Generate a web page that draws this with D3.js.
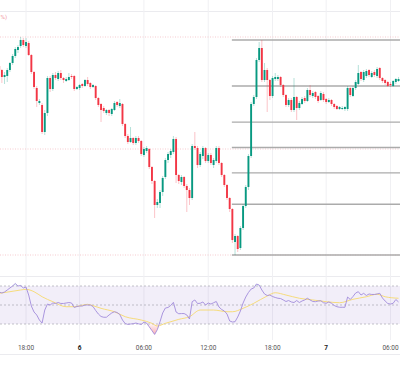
<!DOCTYPE html>
<html><head><meta charset="utf-8">
<script src="https://cdn.jsdelivr.net/npm/d3@7"></script>
<style>html,body{margin:0;padding:0;background:#fff;overflow:hidden}</style>
</head><body>
<svg id="c" width="400" height="370"></svg>
<script>
const opens = [
334,330,323,324,330,337,344,350,354,360,
354,357,345,328,312,297,295,268,287,322,
311,325,321,327,322,319,320,324,324,311,
312,316,314,320,317,313,314,302,296,292,
287,290,286,290,298,294,296,276,264,258,
262,257,262,259,245,249,251,233,219,195,
197,208,223,240,245,248,261,225,218,223,
214,210,202,254,252,235,244,252,239,245,
235,239,252,237,225,215,202,191,158,164,
152,172,194,213,244,296,303,340,352,320,
330,320,304,321,321,323,315,305,295,300,
290,303,292,296,302,299,310,304,308,304,
300,306,301,298,300,296,294,291,291,291,
291,312,304,312,316,328,320,324,330,323,
328,324,332,322,320,318,316,314,318,319];
const highs = [
336,331,328,332,338,346,353,355,363,362,
362,359,346,329,314,301,297,290,324,324,
327,328,329,330,323,323,327,326,325,314,
316,317,321,323,318,316,315,303,297,294,
291,291,292,299,299,301,297,277,266,273,
263,264,264,260,253,254,252,234,220,201,
210,224,242,248,251,264,263,226,225,224,
216,212,256,268,254,248,254,253,247,247,
242,254,254,238,226,216,203,192,166,165,
174,196,215,246,298,305,342,358,360,337,
332,321,324,327,325,324,316,306,302,302,
322,304,299,303,304,312,315,309,309,305,
309,308,302,302,301,297,295,294,294,294,
314,313,314,320,335,329,330,331,331,329,
330,333,333,323,321,319,318,320,322,323];
const lows = [
328,317,316,318,328,335,342,347,352,353,
352,344,326,311,293,295,266,265,284,308,
309,320,319,320,317,318,319,321,309,310,
310,312,313,314,311,312,300,293,278,287,
285,284,284,289,293,292,274,262,256,257,
255,255,257,244,243,247,231,216,182,192,
192,204,221,237,242,246,217,216,215,212,
188,195,200,250,232,233,241,237,237,235,
232,237,235,223,213,200,188,157,145,148,
150,170,192,210,242,294,301,338,318,318,
288,300,302,319,319,313,303,293,293,288,
288,280,290,295,297,298,303,302,301,297,
299,298,296,297,294,291,290,290,290,289,
289,303,303,310,315,319,318,322,323,322,
323,322,320,317,315,313,313,313,316,318];
const closes = [
330,323,325,330,337,344,351,353,360,355,
358,345,328,313,299,299,268,287,322,311,
325,322,327,322,320,321,323,323,311,313,
315,314,320,316,313,315,302,295,290,289,
290,287,291,297,295,297,276,264,258,262,
257,262,259,246,251,252,233,219,195,198,
208,222,240,246,249,261,225,219,223,214,
210,202,254,252,235,246,252,239,245,237,
240,252,237,225,215,202,191,160,164,151,
172,194,213,244,296,303,340,352,320,330,
320,304,322,323,323,315,305,295,300,290,
303,292,297,301,299,310,305,307,303,299,
307,300,298,300,296,293,291,293,292,293,
312,305,312,318,327,321,328,329,325,327,
325,331,322,319,317,314,315,319,321,321];
const rsi = [
63.7,62.6,63.7,65.8,67.9,70,72.6,70,70.5,67.9,
68.9,60.5,48.9,42.6,39.5,34.2,31,44.7,51,50,
52.1,51.6,52.6,51.6,51.6,52.1,52.6,52.1,47.4,48.4,
48.9,48.9,50,50,50,48.4,44.2,40.5,37.9,37.1,
37.1,39.5,41.6,42.9,42.1,40,34.2,30.5,29.6,30,
30.3,31,30.2,29.5,32,31,27,23,19,24,
32.4,41.6,46.8,47.4,49.5,52.8,42.6,40.8,41,41,
39.5,35.3,53.5,55.3,51.6,51.8,53.2,50,52.1,51,
52.4,53.7,47.9,45.3,43.7,40.5,33.2,32.1,32.4,37.4,
43.7,52.1,58.4,63.2,66.8,67.9,72.1,71,65.8,61.6,
60,60.5,58.9,57.9,57.1,56.8,55.3,53.7,54.7,53.2,
52.6,54.7,52.6,54.2,55.3,57.1,55.3,53.7,53.5,54.2,
54.5,52.4,51.8,53.2,51.8,49.5,48.2,47.6,47.6,47.6,
58.4,55.8,58.9,62.6,64,60.5,62.3,60,61.6,61.1,
61.1,61.6,62.3,57.4,54.2,51.6,51,51.8,55.8,53.2];
const maIdx = [0,4,8,10,13,16,20,25,28,33,35,38,43,47,53,57,59,62,67,71,75,80,85,87,91,95,100,103,107,112,117,122,127,132,137,141,144,149];
const maVal = [62.3,64,65.8,66.5,64,58.7,53.5,48.2,48.2,50.7,49.3,46.5,42.9,37.7,34.2,30.7,27.9,30.7,34.9,37.7,44.7,44.7,42.9,42.9,46.5,51.8,59.5,62.9,60.5,57.1,55.3,53.5,52.4,56,58.7,61.3,58.7,57.1];
const tickIdx = [10,30,54,78,102,122,146];
const tickLabels = ["18:00","6","06:00","12:00","18:00","7","06:00"];
const tickBold = [false,true,false,false,false,true,false];
const fibLevels = [0,0.236,0.382,0.5,0.618,0.786,1];
const fibStart = 87;
const refLevels = [363,251,145];
const rsiLevels = [70,50,30];
const legendTail = "%)";

const svg = d3.select("#c");
const N = closes.length;
const x = d3.scaleBand().domain(d3.range(N)).range([-2.14, 399.86]).padding(0);
const xc = i => x(i) + x.bandwidth()/2;
const y = d3.scaleLinear().domain([145,360]).range([255,40]);
const yr = d3.scaleLinear().domain([30,70]).range([324,286]);
const up = "#089981", dn = "#f23645";

// horizontal separators
[11,276,354].forEach(v=>svg.append("line").attr("x1",0).attr("x2",400).attr("y1",v+0.5).attr("y2",v+0.5)
  .attr("stroke","#ebebef").attr("stroke-width",1));

// vertical grid via axis
const grid = svg.append("g")
  .call(d3.axisBottom(x).tickValues(tickIdx).tickSize(340).tickFormat(""));
grid.select(".domain").remove();
grid.selectAll("line").attr("stroke","#f0f0f3").attr("stroke-width",1);

// RSI band
svg.append("rect").attr("x",0).attr("width",400).attr("y",yr(70)).attr("height",yr(30)-yr(70))
  .attr("fill","#7e57c2").attr("fill-opacity",0.1);
rsiLevels.forEach(l=>svg.append("line").attr("x1",0).attr("x2",400).attr("y1",yr(l)).attr("y2",yr(l))
  .attr("stroke","#9a9ca6").attr("stroke-width",0.6).attr("stroke-dasharray","2,2"));

// oversold / overbought gradient fills
const defs = svg.append("defs");
const gOS = defs.append("linearGradient").attr("id","gos").attr("gradientUnits","userSpaceOnUse")
  .attr("x1",0).attr("x2",0).attr("y1",yr(30)).attr("y2",yr(30)+12);
gOS.append("stop").attr("offset",0).attr("stop-color",dn).attr("stop-opacity",0.05);
gOS.append("stop").attr("offset",1).attr("stop-color",dn).attr("stop-opacity",0.45);
const gOB = defs.append("linearGradient").attr("id","gob").attr("gradientUnits","userSpaceOnUse")
  .attr("x1",0).attr("x2",0).attr("y1",yr(70)).attr("y2",yr(70)-12);
gOB.append("stop").attr("offset",0).attr("stop-color",up).attr("stop-opacity",0.05);
gOB.append("stop").attr("offset",1).attr("stop-color",up).attr("stop-opacity",0.45);
defs.append("clipPath").attr("id","cos").append("rect").attr("x",0).attr("width",400).attr("y",yr(30)).attr("height",50);
defs.append("clipPath").attr("id","cob").append("rect").attr("x",0).attr("width",400).attr("y",yr(70)-50).attr("height",50);
const idx = d3.range(N);
svg.append("path").datum(idx).attr("clip-path","url(#cos)").attr("fill","url(#gos)")
  .attr("d", d3.area().x(i=>xc(i)).y0(yr(30)).y1(i=>yr(Math.min(rsi[i],30))));
svg.append("path").datum(idx).attr("clip-path","url(#cob)").attr("fill","url(#gob)")
  .attr("d", d3.area().x(i=>xc(i)).y0(yr(70)).y1(i=>yr(Math.max(rsi[i],70))));

// MA line
svg.append("path").datum(d3.range(maIdx.length)).attr("fill","none").attr("stroke","#f6d96e").attr("stroke-width",0.9)
  .attr("d", d3.line().x(k=>xc(maIdx[k])).y(k=>yr(maVal[k])).curve(d3.curveMonotoneX));
// RSI line
svg.append("path").datum(idx).attr("fill","none").attr("stroke","#a18bdb").attr("stroke-width",0.9)
  .attr("d", d3.line().x(i=>xc(i)).y(i=>yr(rsi[i])));

// reference dotted lines
refLevels.forEach(p=>svg.append("line").attr("x1",0).attr("x2",400).attr("y1",y(p)).attr("y2",y(p))
  .attr("stroke","#f2bcc3").attr("stroke-width",0.8).attr("stroke-dasharray","1,1.5"));

// fib retracement
const fHigh = d3.max(highs.slice(fibStart)), fLow = d3.min(lows.slice(fibStart));
fibLevels.forEach(l=>svg.append("line").attr("x1",xc(fibStart)-0.5).attr("x2",400)
  .attr("y1",y(fLow+(fHigh-fLow)*l)).attr("y2",y(fLow+(fHigh-fLow)*l))
  .attr("stroke","#ababab").attr("stroke-width",1.3));

// candles
const cg = svg.append("g");
idx.forEach(i=>{
  const col = closes[i] >= opens[i] ? up : dn;
  cg.append("line").attr("x1",xc(i)).attr("x2",xc(i)).attr("y1",y(highs[i])).attr("y2",y(lows[i]))
    .attr("stroke",col).attr("stroke-width",0.6).attr("stroke-opacity",0.5);
  const t = y(Math.max(opens[i],closes[i])), b = y(Math.min(opens[i],closes[i]));
  cg.append("rect").attr("x",xc(i)-0.95).attr("width",1.9).attr("y",t).attr("height",Math.max(0.7,b-t))
    .attr("fill",col);
});

// time axis
const ax = svg.append("g").attr("transform","translate(0,345.5)")
  .call(d3.axisBottom(x).tickValues(tickIdx).tickSize(0).tickPadding(0).tickFormat((d,k)=>tickLabels[k]));
ax.select(".domain").remove();
ax.selectAll("text").attr("font-family","Roboto, 'Liberation Sans', sans-serif").attr("font-size","6.5px")
  .attr("fill",(d,k)=>tickBold[k]?"#222":"#555").attr("font-weight",(d,k)=>tickBold[k]?"bold":"normal");

// legend tail at the left edge
svg.append("text").attr("x",0.5).attr("y",19).attr("text-anchor","start")
  .attr("font-family","Roboto, 'Liberation Sans', sans-serif").attr("font-size","6px").attr("fill","#f29aa3")
  .text(legendTail);
</script>
</body></html>
